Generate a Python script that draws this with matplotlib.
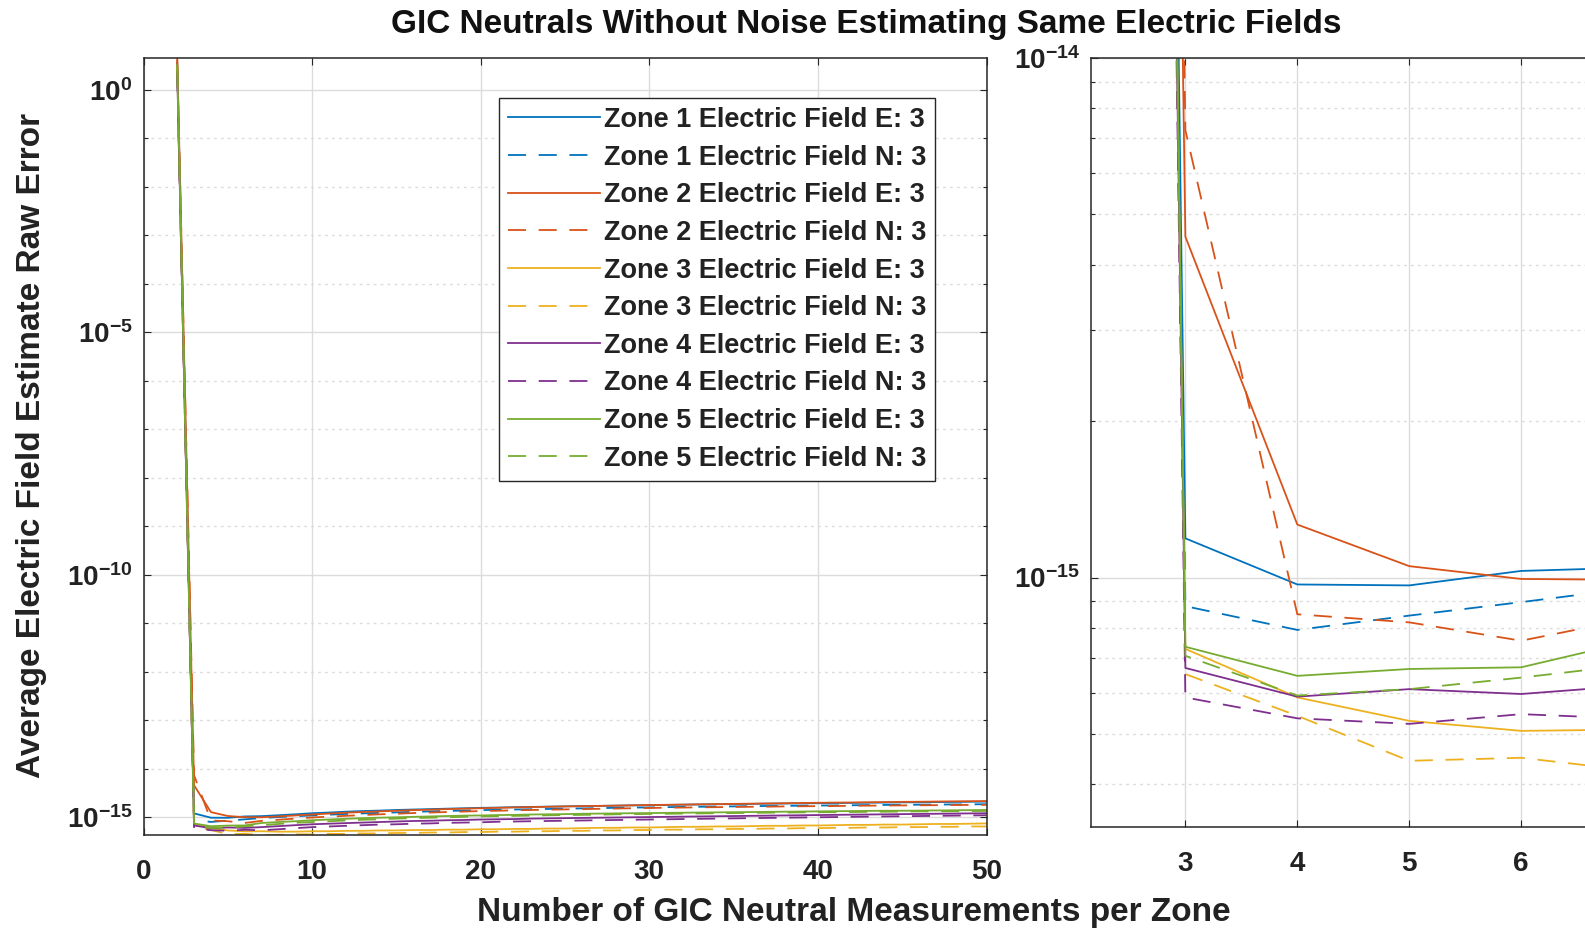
import numpy as np
import matplotlib
matplotlib.use("Agg")
import matplotlib.pyplot as plt
from matplotlib.ticker import FixedLocator, FuncFormatter, NullFormatter

plt.rcParams['font.family'] = ['Liberation Sans', 'DejaVu Sans']
plt.rcParams['font.weight'] = 'bold'
plt.rcParams['mathtext.fontset'] = 'custom'
plt.rcParams['mathtext.rm'] = 'Liberation Sans:bold'
plt.rcParams['mathtext.bf'] = 'Liberation Sans:bold'
plt.rcParams['mathtext.it'] = 'Liberation Sans:bold'

# ---------------- data ----------------
x_first = 2
x_last = 50
labels = [
    "Zone 1 Electric Field E: 3", "Zone 1 Electric Field N: 3",
    "Zone 2 Electric Field E: 3", "Zone 2 Electric Field N: 3",
    "Zone 3 Electric Field E: 3", "Zone 3 Electric Field N: 3",
    "Zone 4 Electric Field E: 3", "Zone 4 Electric Field N: 3",
    "Zone 5 Electric Field E: 3", "Zone 5 Electric Field N: 3",
]
# value at x = 2 (same order as labels)
start_values = [3.6, 3.1, 4.6, 4.2, 2.9, 2.6, 2.4, 2.2, 3.3, 2.8]

# values for x = 3..50, in units of 1e-15
z1_e = [1.19, 0.97, 0.966, 1.03, 1.045, 1.09, 1.14, 1.20, 1.24, 1.29,
        1.33, 1.36, 1.40, 1.43, 1.46, 1.49, 1.52, 1.55, 1.57, 1.60,
        1.62, 1.64, 1.66, 1.68, 1.70, 1.72, 1.74, 1.76, 1.78, 1.80,
        1.82, 1.84, 1.85, 1.87, 1.89, 1.90, 1.92, 1.93, 1.95, 1.96,
        1.98, 1.99, 2.01, 2.02, 2.04, 2.05, 2.07, 2.08]
z1_n = [0.881, 0.793, 0.845, 0.897, 0.955, 1.00, 1.04, 1.08, 1.12, 1.16,
        1.19, 1.22, 1.25, 1.28, 1.31, 1.34, 1.36, 1.39, 1.41, 1.43,
        1.45, 1.47, 1.49, 1.51, 1.53, 1.55, 1.57, 1.58, 1.60, 1.62,
        1.63, 1.65, 1.66, 1.68, 1.69, 1.70, 1.72, 1.73, 1.74, 1.75,
        1.77, 1.78, 1.79, 1.80, 1.81, 1.82, 1.83, 1.84]
z2_e = [4.53, 1.265, 1.052, 0.994, 0.99, 1.03, 1.08, 1.13, 1.18, 1.23,
        1.27, 1.31, 1.35, 1.39, 1.42, 1.46, 1.49, 1.52, 1.55, 1.58,
        1.61, 1.63, 1.66, 1.68, 1.70, 1.72, 1.75, 1.77, 1.79, 1.81,
        1.83, 1.85, 1.87, 1.89, 1.91, 1.93, 1.95, 1.97, 1.99, 2.00,
        2.02, 2.04, 2.06, 2.07, 2.09, 2.11, 2.12, 2.14]
z2_n = [7.26, 0.85, 0.82, 0.756, 0.835, 0.88, 0.93, 0.98, 1.02, 1.06,
        1.10, 1.14, 1.17, 1.21, 1.24, 1.27, 1.30, 1.33, 1.35, 1.38,
        1.40, 1.42, 1.44, 1.46, 1.48, 1.50, 1.52, 1.54, 1.56, 1.57,
        1.59, 1.60, 1.62, 1.63, 1.64, 1.66, 1.67, 1.68, 1.69, 1.71,
        1.72, 1.73, 1.74, 1.75, 1.76, 1.77, 1.78, 1.79]
z3_e = [0.729, 0.588, 0.53, 0.507, 0.51, 0.50, 0.50, 0.51, 0.51, 0.52,
        0.52, 0.53, 0.53, 0.54, 0.54, 0.55, 0.55, 0.56, 0.56, 0.57,
        0.57, 0.58, 0.58, 0.59, 0.60, 0.60, 0.61, 0.61, 0.62, 0.63,
        0.63, 0.64, 0.64, 0.65, 0.66, 0.66, 0.67, 0.67, 0.68, 0.69,
        0.69, 0.70, 0.70, 0.71, 0.72, 0.72, 0.73, 0.74]
z3_n = [0.652, 0.542, 0.444, 0.45, 0.425, 0.43, 0.44, 0.44, 0.45, 0.45,
        0.46, 0.46, 0.47, 0.47, 0.48, 0.48, 0.49, 0.49, 0.50, 0.50,
        0.51, 0.51, 0.52, 0.52, 0.53, 0.53, 0.54, 0.54, 0.55, 0.55,
        0.56, 0.56, 0.57, 0.57, 0.58, 0.58, 0.59, 0.59, 0.60, 0.60,
        0.61, 0.61, 0.62, 0.62, 0.63, 0.63, 0.64, 0.64]
z4_e = [0.67, 0.59, 0.61, 0.597, 0.62, 0.65, 0.68, 0.71, 0.73, 0.75,
        0.77, 0.79, 0.81, 0.83, 0.84, 0.86, 0.87, 0.89, 0.90, 0.91,
        0.93, 0.94, 0.95, 0.96, 0.97, 0.98, 0.99, 1.00, 1.01, 1.02,
        1.03, 1.04, 1.05, 1.06, 1.07, 1.08, 1.09, 1.10, 1.11, 1.12,
        1.13, 1.14, 1.15, 1.16, 1.17, 1.18, 1.19, 1.20]
z4_n = [0.588, 0.536, 0.523, 0.546, 0.535, 0.56, 0.59, 0.62, 0.64, 0.66,
        0.68, 0.70, 0.71, 0.73, 0.74, 0.76, 0.77, 0.78, 0.80, 0.81,
        0.82, 0.83, 0.84, 0.85, 0.86, 0.87, 0.88, 0.89, 0.90, 0.91,
        0.92, 0.93, 0.94, 0.95, 0.96, 0.97, 0.98, 0.99, 1.00, 1.01,
        1.02, 1.03, 1.04, 1.05, 1.06, 1.07, 1.08, 1.09]
z5_e = [0.736, 0.647, 0.667, 0.672, 0.755, 0.79, 0.82, 0.86, 0.89, 0.92,
        0.95, 0.97, 0.99, 1.01, 1.03, 1.05, 1.07, 1.08, 1.10, 1.11,
        1.13, 1.14, 1.15, 1.17, 1.18, 1.19, 1.20, 1.21, 1.22, 1.23,
        1.24, 1.25, 1.26, 1.27, 1.28, 1.29, 1.30, 1.31, 1.32, 1.33,
        1.34, 1.35, 1.35, 1.36, 1.37, 1.38, 1.39, 1.40]
z5_n = [0.707, 0.593, 0.61, 0.642, 0.68, 0.72, 0.76, 0.79, 0.82, 0.85,
        0.88, 0.90, 0.93, 0.95, 0.97, 0.99, 1.01, 1.03, 1.04, 1.06,
        1.07, 1.09, 1.10, 1.11, 1.12, 1.14, 1.15, 1.16, 1.17, 1.18,
        1.19, 1.20, 1.21, 1.22, 1.23, 1.24, 1.25, 1.26, 1.26, 1.27,
        1.28, 1.29, 1.30, 1.31, 1.31, 1.32, 1.33, 1.34]
tails = [z1_e, z1_n, z2_e, z2_n, z3_e, z3_n, z4_e, z4_n, z5_e, z5_n]
tail_unit = 1e-15

left_xticks = [0, 10, 20, 30, 40, 50]
left_major_exp = [0, -5, -10, -15]
right_xticks = [3, 4, 5, 6]
right_major_exp = [-14, -15]

title = "GIC Neutrals Without Noise Estimating Same Electric Fields"
xlabel = "Number of GIC Neutral Measurements per Zone"
ylabel = "Average Electric Field Estimate Raw Error"

# ---------------- style ----------------
zone_colors = ["#0072BD", "#D95319", "#EDB120", "#7E2F8E", "#77AC30"]
W, H = 1585, 931
fig = plt.figure(figsize=(W / 100, H / 100), dpi=100)

def fx(px):
    return px / W

def fy(py):
    return 1 - py / H

ax1 = fig.add_axes([fx(143.5), fy(835), fx(986.5) - fx(143.5), fy(58) - fy(835)])
ax2 = fig.add_axes([fx(1091), fy(827), 0.4127, fy(58) - fy(827)])

x = np.arange(x_first, x_last + 1)
lw = 1.3
for ax in (ax1, ax2):
    for i, (lab, s0, tail) in enumerate(zip(labels, start_values, tails)):
        y = np.concatenate([[s0], np.array(tail) * tail_unit])
        col = zone_colors[i // 2]
        if i % 2 == 0:
            ax.plot(x, y, color=col, lw=lw, label=lab)
        else:
            ax.plot(x, y, color=col, lw=lw, dashes=(10, 7), label=lab)
    ax.set_yscale('log')

spine_col = "#262626"
grid_col = "#dcdcdc"

def fmt_exp(v, pos):
    e = int(round(np.log10(v)))
    return r'$\mathbf{10^{%d}}$' % e

# left axes
ax1.set_xlim(0, 50)
ax1.set_ylim(10 ** -15.37, 10 ** 0.66)
ax1.xaxis.set_major_locator(FixedLocator(left_xticks))
ax1.yaxis.set_major_locator(FixedLocator([10.0 ** e for e in left_major_exp]))
minor_exp = [e for e in range(-15, 1) if e not in left_major_exp]
ax1.yaxis.set_minor_locator(FixedLocator([10.0 ** e for e in minor_exp]))
ax1.yaxis.set_major_formatter(FuncFormatter(fmt_exp))
ax1.yaxis.set_minor_formatter(NullFormatter())

# right axes
ax2.set_xlim(2.157, 8)
ax2.set_ylim(10 ** -15.48, 1e-14)
ax2.xaxis.set_major_locator(FixedLocator(right_xticks))
ax2.yaxis.set_major_locator(FixedLocator([10.0 ** e for e in right_major_exp]))
ax2_minor = [m * 1e-16 for m in range(3, 10)] + [m * 1e-15 for m in range(2, 10)]
ax2.yaxis.set_minor_locator(FixedLocator(ax2_minor))
ax2.yaxis.set_major_formatter(FuncFormatter(fmt_exp))
ax2.yaxis.set_minor_formatter(NullFormatter())

for ax in (ax1, ax2):
    ax.grid(True, which='major', color=grid_col, lw=1.0, ls='-')
    ax.grid(True, which='minor', axis='y', color=grid_col, lw=1.0, ls=(0, (2, 3)))
    ax.set_axisbelow(True)
    for sp in ax.spines.values():
        sp.set_color(spine_col)
        sp.set_linewidth(1.1)
    ax.tick_params(which='both', direction='in', top=True, right=True,
                   colors=spine_col, labelcolor='#222222', labelsize=20, width=0.8)
    ax.tick_params(which='major', length=5)
    ax.tick_params(which='minor', length=3)
    ax.tick_params(axis='x', pad=17)
    ax.tick_params(axis='y', pad=8)
    for t in ax.get_xticklabels() + ax.get_yticklabels():
        t.set_fontweight('bold')

leg = ax1.legend(loc='upper left', bbox_to_anchor=(0.4217, 0.9485), borderaxespad=0,
                 fontsize=19.5, handlelength=3.4, handletextpad=0.15, labelspacing=0.43,
                 fancybox=False, framealpha=1, edgecolor='#262626', borderpad=0.33)
leg.get_frame().set_linewidth(1.0)
for t in leg.get_texts():
    t.set_fontweight('bold')
    t.set_color('#222222')

fig.text(fx(866), fy(24), title, ha='center', va='center', fontsize=24,
         fontweight='bold', color='#111111')
fig.text(fx(854), fy(912), xlabel, ha='center', va='center', fontsize=24,
         fontweight='bold', color='#222222')
fig.text(fx(32), fy(445), ylabel, ha='center', va='center', rotation=90,
         fontsize=24, fontweight='bold', color='#222222')

fig.savefig("out.png", dpi=100)
